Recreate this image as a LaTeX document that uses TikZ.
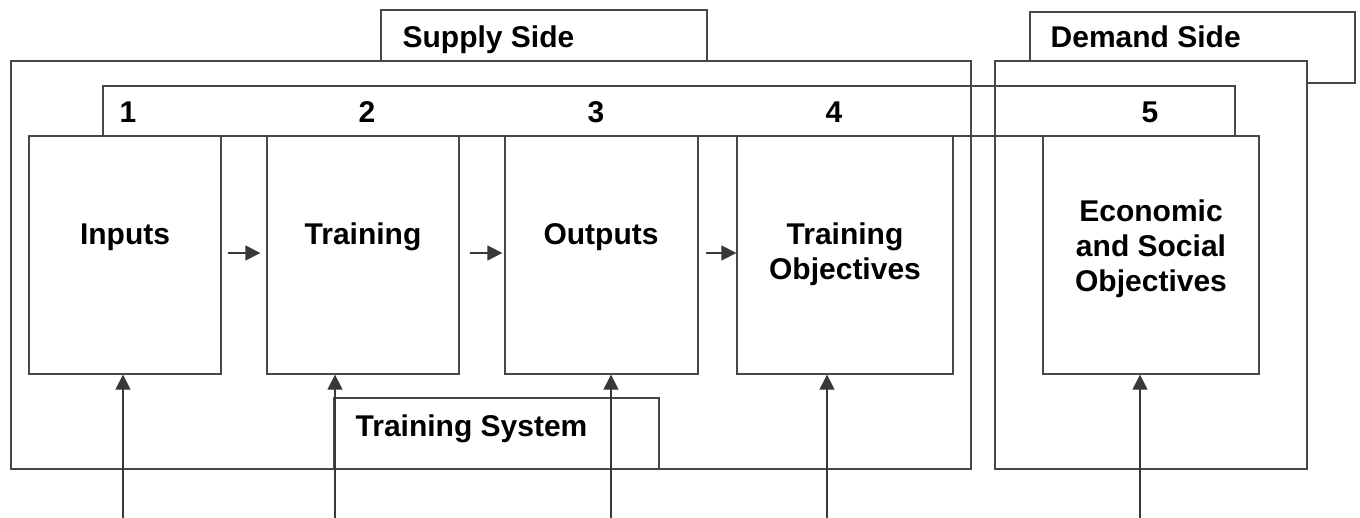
\documentclass[tikz,border=0pt]{standalone}
\usepackage{fontspec}
\setmainfont{Liberation Sans}
\usetikzlibrary{arrows.meta}
\begin{document}
\begin{tikzpicture}[x=0.5pt,y=-0.5pt,line width=0.65pt,
  arr/.style={-{Triangle[length=7.5pt,width=7.5pt]},draw=black!78,fill=black!78},
  frame/.style={draw=black!72},
  stage/.style={draw=black!72,fill=white,minimum width=#1,minimum height=119pt,inner sep=0pt},
  txt/.style={font=\bfseries\fontsize{15}{17.5}\selectfont,align=center,inner sep=0pt}]
\useasboundingbox (0,0) rectangle (1360,518);
% side labels and outer frames
\draw[frame] (381,10) rectangle (707,61);
\node[txt,anchor=base west] (supply) at (402,48) {Supply Side};
\draw[frame,fill=white] (1030,12) rectangle (1355,83);
\node[txt,anchor=base west] (demand) at (1050,48) {Demand Side};
\draw[frame] (11,61) rectangle (971,469);
\draw[frame,fill=white] (995,61) rectangle (1307,469);
% numbered strip
\draw[frame] (103,86) rectangle (1235,136);
\node[txt,anchor=base] (n1) at (128,123) {1};
\node[txt,anchor=base] (n2) at (367,123) {2};
\node[txt,anchor=base] (n3) at (596,123) {3};
\node[txt,anchor=base] (n4) at (834,123) {4};
\node[txt,anchor=base] (n5) at (1150,123) {5};
% training system
\draw[frame] (334,398) rectangle (659,469);
\node[txt,anchor=base west] (system) at (355,436) {Training System};
% stages
\node[stage=96pt] (inputs) at (125,255) {};
\node[stage=96pt] (training) at (363,255) {};
\node[stage=96.5pt] (outputs) at (601.5,255) {};
\node[stage=108pt] (tobj) at (845,255) {};
\node[stage=108pt] (esobj) at (1151,255) {};
\node[txt] at (125,237) {Inputs};
\node[txt] at (363,237) {Training};
\node[txt] at (601,237) {Outputs};
\node[txt] at (845,254) {Training\\Objectives};
\node[txt] at (1151,249) {Economic\\and Social\\Objectives};
% flow between stages
\draw[arr] ([xshift=3pt,yshift=1pt]inputs.east) -- ([xshift=-3pt,yshift=1pt]training.west);
\draw[arr] ([xshift=5pt,yshift=1pt]training.east) -- ([xshift=-1pt,yshift=1pt]outputs.west);
\draw[arr] ([xshift=3.5pt,yshift=1pt]outputs.east) -- ([yshift=1pt]tobj.west);
% inputs from below
\coordinate (b1) at (123,518);
\coordinate (b2) at (335,518);
\coordinate (b3) at (611,518);
\coordinate (b4) at (827,518);
\coordinate (b5) at (1140,518);
\draw[arr] (b1) -- (b1 |- inputs.south);
\draw[arr] (b2) -- (b2 |- training.south);
\draw[arr] (b3) -- (b3 |- outputs.south);
\draw[arr] (b4) -- (b4 |- tobj.south);
\draw[arr] (b5) -- (b5 |- esobj.south);
\end{tikzpicture}
\end{document}
